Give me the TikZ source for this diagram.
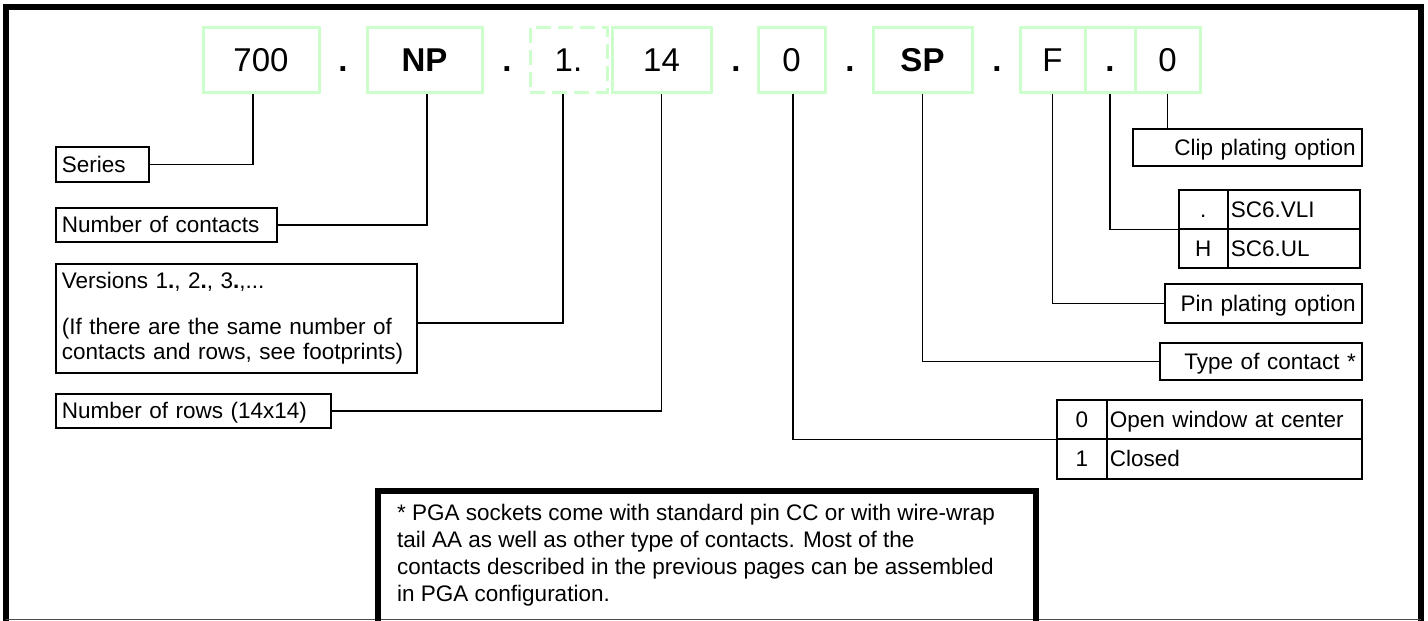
\documentclass[tikz,border=0pt]{standalone}
\usepackage{fontspec}
\setmainfont{Liberation Sans}
\definecolor{gl}{RGB}{204,255,204}
\newcommand\lblfont{\fontsize{22.5}{25}\selectfont}
\newcommand\notefont{\fontsize{22.5}{27}\selectfont}
\newcommand\codefont{\fontsize{33}{40}\selectfont}
\begin{document}
\begin{tikzpicture}[x=1pt,y=-1pt,
  gbox/.style={draw=gl, line width=3pt, minimum height=65pt, inner sep=0pt, font=\codefont, text height=23.6pt, text depth=0pt},
  sepdot/.style={inner sep=0pt, font=\codefont\bfseries, text height=23.6pt, text depth=0pt},
  boxbase/.style={draw, line width=1.6pt, anchor=north west, inner xsep=6pt, inner ysep=0pt, font=\lblfont},
  lbox/.style={boxbase, text height=16pt, text depth=0pt},
  cell/.style={draw, line width=1.6pt, anchor=north west, inner xsep=3pt, inner ysep=0pt, font=\lblfont, text height=16pt, text depth=0pt},
  conn/.style={draw, line width=1.5pt},
  frame/.style={draw, line width=6pt, line join=miter},
]
\useasboundingbox (0,0) rectangle (1428,621);
\clip (0,0) rectangle (1428,621);

% outer frame
\draw[frame] (6,640) -- (6,7) -- (1421,7) -- (1421,640);
\draw[line width=1.5pt, black!70] (6,619.5) -- (1421,619.5);

% code boxes
\node[gbox, minimum width=116pt] (c700) at (261,59.5) {700};
\node[sepdot] (d1) at (343,59.5) {.};
\node[gbox, minimum width=115pt, font=\codefont\bfseries] (cNP) at (424.5,59.5) {NP};
\node[sepdot] (d2) at (507,59.5) {.};
\node[gbox, minimum width=77pt, dash pattern=on 15pt off 7pt] (c1) at (568.5,59.5) {1.};
\node[gbox, minimum width=99pt] (c14) at (661.5,59.5) {14};
\node[sepdot] (d3) at (736,59.5) {.};
\node[gbox, minimum width=67pt] (c0) at (791.5,59.5) {0};
\node[sepdot] (d4) at (850,59.5) {.};
\node[gbox, minimum width=99pt, font=\codefont\bfseries] (cSP) at (922.5,59.5) {SP};
\node[sepdot] (d5) at (997,59.5) {.};
\node[gbox, minimum width=65pt] (cF) at (1052.5,59.5) {F};
\node[gbox, minimum width=50pt, font=\codefont\bfseries] (cD) at (1110,59.5) {.};
\node[gbox, minimum width=65pt] (c0b) at (1167.5,59.5) {0};

% left labels
\node[lbox, text width=81pt, align=left, minimum height=35pt] (series) at (55,146) {Series};
\node[lbox, text width=209pt, align=left, minimum height=34pt] (contacts) at (55,207) {Number of contacts};
\node[boxbase, text width=349pt, align=left, minimum height=109pt] (vers) at (55,263)
  {Versions 1\textbf{.}, 2\textbf{.}, 3\textbf{.},...\\[21pt](If there are the same number of\\contacts and rows, see footprints)};
\node[lbox, text width=263pt, align=left, minimum height=34pt] (rows) at (55,393) {Number of rows (14x14)};

% right labels
\node[lbox, text width=217pt, align=right, minimum height=37pt] (clip) at (1132,128) {Clip plating option};
\node[cell, minimum width=49pt, minimum height=39pt] (sa) at (1178,189) {.};
\node[cell, text width=126pt, align=left, minimum height=39pt] (sb) at (1227,189) {SC6.VLI};
\node[cell, minimum width=49pt, minimum height=39pt] (ha) at (1178,228) {H};
\node[cell, text width=126pt, align=left, minimum height=39pt] (hb) at (1227,228) {SC6.UL};
\node[lbox, text width=185pt, align=right, minimum height=39pt] (pin) at (1164,283) {Pin plating option};
\node[lbox, text width=190pt, align=right, minimum height=37pt] (type) at (1159,342) {Type of contact *};
\node[cell, minimum width=50pt, minimum height=39pt] (t0a) at (1056,399) {0};
\node[cell, text width=249pt, align=left, minimum height=39pt] (t0b) at (1106,399) {Open window at center};
\node[cell, minimum width=50pt, minimum height=40pt] (t1a) at (1056,438) {1};
\node[cell, text width=249pt, align=left, minimum height=40pt] (t1b) at (1106,438) {Closed};

% connectors
\draw[conn] (series.east) -| ([xshift=-8pt]c700.south);
\draw[conn] (contacts.east) -| ([xshift=2.5pt]cNP.south);
\draw[conn] ([yshift=-4.5pt]vers.east) -| ([xshift=-5.5pt]c1.south);
\draw[conn] (rows.east) -| (c14.south);
\draw[conn] ([xshift=1.5pt]c0.south) |- (t0a.south west);
\draw[conn] (cSP.south) |- (type.west);
\draw[conn] (cF.south) |- (pin.west);
\draw[conn] (cD.south) |- (sa.south west);
\draw[conn] (c0b.south) -- (c0b.south |- clip.north);

% footnote
\draw[frame] (378,640) -- (378,491) -- (1036,491) -- (1036,640);
\node[anchor=north west, inner sep=0pt, align=left, font=\notefont] (note) at (397,503.5)
  {* PGA sockets come with standard pin CC or with wire-wrap\\
   tail AA as well as other type of contacts. Most of the\\
   contacts described in the previous pages can be assembled\\
   in PGA configuration.};
\end{tikzpicture}
\end{document}
